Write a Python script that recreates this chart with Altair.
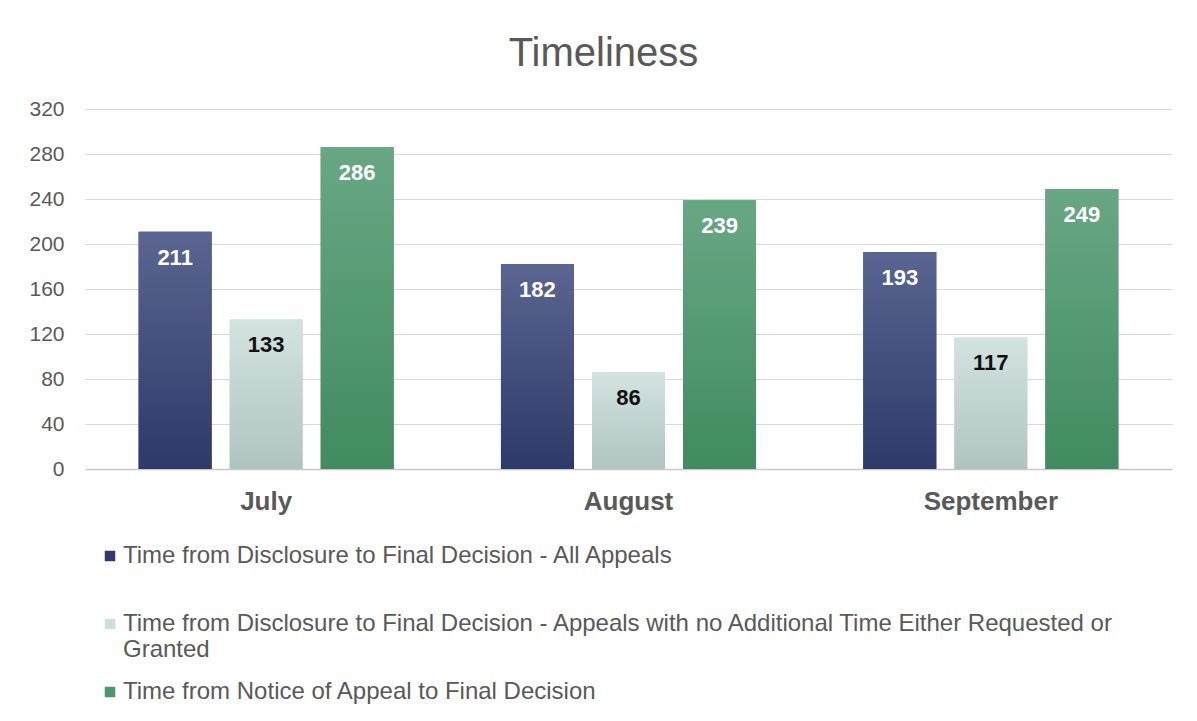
import altair as alt
import pandas as pd

months = ["July", "August", "September"]
series_names = [
    "Time from Disclosure to Final Decision - All Appeals",
    "Time from Disclosure to Final Decision - Appeals with no Additional Time Either Requested or Granted",
    "Time from Notice of Appeal to Final Decision",
]
all_appeals = [211, 182, 193]
no_additional_time = [133, 86, 117]
notice_of_appeal = [286, 239, 249]
y_ticks = [0, 40, 80, 120, 160, 200, 240, 280, 320]

solid_colors = ["#2f3d6b", "#cddfdc", "#4c986b"]
grad_stops = [
    ("#5a6591", "#2d3969"),
    ("#d3e3e0", "#afc4c2"),
    ("#69a784", "#408b60"),
]
label_colors = ["#ffffff", "#111111", "#ffffff"]

rows = []
for vals, s in zip([all_appeals, no_additional_time, notice_of_appeal], series_names):
    for m, v in zip(months, vals):
        rows.append({"month": m, "series": s, "value": v})
df = pd.DataFrame(rows)

FONT = "Liberation Sans"
GRAY = "#595959"

x_enc = alt.X(
    "month:N",
    sort=months,
    scale=alt.Scale(paddingInner=0.296, paddingOuter=0.148),
    axis=alt.Axis(
        title=None, labelAngle=0, labelFont=FONT, labelFontSize=26,
        labelFontWeight="bold", labelColor=GRAY, labelPadding=19,
        ticks=False, domainColor="#c8c8c8", domainWidth=1.3,
    ),
)
xoff_enc = alt.XOffset(
    "series:N", sort=series_names,
    scale=alt.Scale(domain=series_names, paddingInner=0.198, paddingOuter=0),
)
y_enc = alt.Y(
    "value:Q",
    scale=alt.Scale(domain=[0, 320], nice=False),
    axis=alt.Axis(
        title=None, values=y_ticks, labelFont=FONT, labelFontSize=21,
        labelColor=GRAY, labelPadding=21, ticks=False, domain=False,
        gridColor="#d9d9d9", gridWidth=1.2,
    ),
)

label_expr = (
    f"datum.label == '{series_names[1]}' ? "
    "['Time from Disclosure to Final Decision - Appeals with no Additional Time Either Requested or', 'Granted'] "
    ": [datum.label, '']"
)

base = alt.Chart(df)

solid = base.mark_bar().encode(
    x=x_enc, xOffset=xoff_enc, y=y_enc,
    color=alt.Color(
        "series:N", sort=series_names,
        scale=alt.Scale(domain=series_names, range=solid_colors),
        legend=alt.Legend(
            title=None, orient="none", legendX=13, legendY=435,
            direction="vertical", symbolType="square", symbolSize=110,
            symbolStrokeWidth=0, labelFont=FONT, labelFontSize=24,
            labelColor=GRAY, labelLimit=1150, labelOffset=1,
            rowPadding=18, labelExpr=label_expr, padding=0,
        ),
    ),
)

layers = [solid]
for s, (top, bottom) in zip(series_names, grad_stops):
    layers.append(
        base.transform_filter(alt.datum.series == s).mark_bar(
            color=alt.Gradient(
                gradient="linear",
                stops=[alt.GradientStop(color=top, offset=0),
                       alt.GradientStop(color=bottom, offset=1)],
                x1=0, x2=0, y1=0, y2=1,
            )
        ).encode(x=x_enc, xOffset=xoff_enc, y=y_enc)
    )

text = base.mark_text(
    font=FONT, fontSize=22, fontWeight="bold", baseline="middle", dy=26
).encode(
    x=x_enc, xOffset=xoff_enc, y=y_enc,
    text=alt.Text("value:Q"),
    color=alt.Color(
        "series:N", scale=alt.Scale(domain=series_names, range=label_colors),
        legend=None,
    ),
)
layers.append(text)

chart = alt.layer(*layers).resolve_scale(color="independent").properties(
    width=1087,
    height=360,
    autosize=alt.AutoSizeParams(type="none"),
    padding={"left": 77, "top": 101, "right": 17, "bottom": 244},
    title=alt.TitleParams(
        "Timeliness", font=FONT, fontSize=40, fontWeight="normal",
        color=GRAY, anchor="middle", dx=-25, offset=24,
    ),
).configure_view(stroke=None)

chart.save("out.html", embed_options={"renderer": "svg", "actions": False})
